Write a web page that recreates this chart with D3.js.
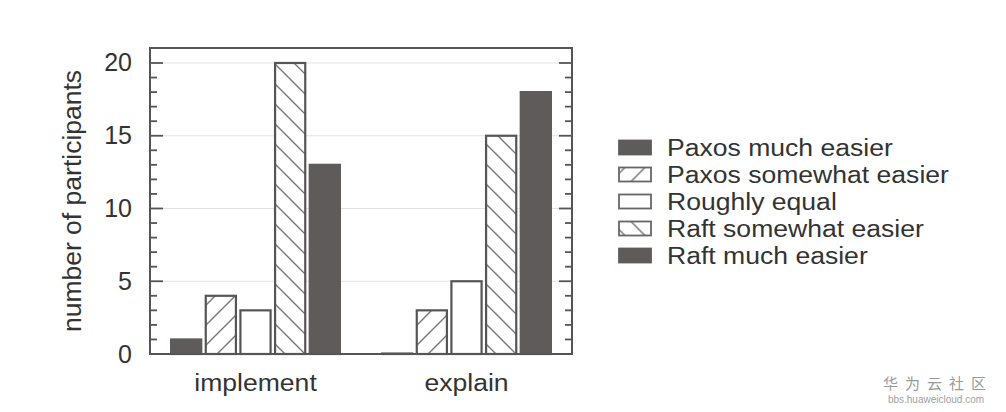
<!DOCTYPE html>
<html><head><meta charset="utf-8">
<script src="https://cdn.jsdelivr.net/npm/d3@7"></script>
<style>
html,body{margin:0;padding:0;background:#fff;}
svg{display:block;font-family:"Liberation Sans",Arial,sans-serif;}
</style></head>
<body>
<svg id="chart" width="1006" height="412"></svg>
<script>
const categories = ["implement", "explain"];
const series = ["Paxos much easier", "Paxos somewhat easier", "Roughly equal", "Raft somewhat easier", "Raft much easier"];
const implementValues = [1, 4, 3, 20, 13];
const explainValues = [0, 3, 5, 15, 18];
const yTicks = [0, 5, 10, 15, 20];
const valuesByCategory = {implement: implementValues, explain: explainValues};
const styles = ["solid", "fwd", "empty", "back", "solid"];

const svg = d3.select("#chart");
const M = {left: 150, right: 572, top: 48, bottom: 354};
const dark = "#5f5b5b", line = "#555";
const STRETCH = 1.13;
function stretch(sel) {
  sel.each(function() {
    const w = this.getComputedTextLength();
    d3.select(this).attr("textLength", w * STRETCH).attr("lengthAdjust", "spacingAndGlyphs");
  });
}

const defs = svg.append("defs");
function hatch(id, dir) {
  const p = defs.append("pattern").attr("id", id).attr("patternUnits", "userSpaceOnUse")
    .attr("width", 20).attr("height", 20);
  p.append("rect").attr("width", 20).attr("height", 20).attr("fill", "#fff");
  const segs = dir === "fwd" ? [[-5,5,5,-5],[0,20,20,0],[15,25,25,15]] : [[-5,15,5,25],[0,0,20,20],[15,-5,25,5]];
  segs.forEach(s => p.append("line").attr("x1", s[0]).attr("y1", s[1]).attr("x2", s[2]).attr("y2", s[3])
    .attr("stroke", "#707070").attr("stroke-width", 1.3));
}
hatch("hf", "fwd");
hatch("hb", "back");
function fillFor(s) { return s === "solid" ? dark : s === "fwd" ? "url(#hf)" : s === "back" ? "url(#hb)" : "#fff"; }

const y = d3.scaleLinear().domain([0, 21.03]).range([M.bottom, M.top]);
const x0 = d3.scaleBand().domain(categories).range([M.left, M.right]).paddingInner(0.2).paddingOuter(0.1);
const x1 = d3.scaleBand().domain(series).range([0, x0.bandwidth()]).paddingInner(0.13);

// grid
svg.append("g").selectAll("line").data(yTicks.filter(d => d > 0)).join("line")
  .attr("x1", M.left).attr("x2", M.right).attr("y1", d => y(d)).attr("y2", d => y(d))
  .attr("stroke", "#e2e2e2").attr("stroke-width", 1);

// minor/major ticks (inward, both sides)
const tickVals = d3.range(0, 21);
const tg = svg.append("g");
tickVals.forEach(v => {
  const len = v % 5 === 0 ? 13 : 7;
  tg.append("line").attr("x1", M.left).attr("x2", M.left + len).attr("y1", y(v)).attr("y2", y(v))
    .attr("stroke", line).attr("stroke-width", 1.8);
  tg.append("line").attr("x1", M.right).attr("x2", M.right - len).attr("y1", y(v)).attr("y2", y(v))
    .attr("stroke", line).attr("stroke-width", 1.8);
});

// bars (zero-height bars still show their outline, as gnuplot does)
categories.forEach(c => {
  const g = svg.append("g").attr("transform", `translate(${x0(c)},0)`);
  g.selectAll("rect").data(series.map((s, i) => ({s, i, v: valuesByCategory[c][i]}))).join("rect")
    .attr("x", d => x1(d.s)).attr("width", x1.bandwidth())
    .attr("y", d => Math.min(y(d.v), y(0) - 0.5)).attr("height", d => Math.max(y(0) - y(d.v), 0.5))
    .attr("fill", d => fillFor(styles[d.i]))
    .attr("stroke", d => styles[d.i] === "solid" ? dark : line)
    .attr("stroke-width", 2.2);
});

// frame
svg.append("rect").attr("x", M.left).attr("y", M.top).attr("width", M.right - M.left).attr("height", M.bottom - M.top)
  .attr("fill", "none").attr("stroke", line).attr("stroke-width", 2);

// y tick labels
const yAxis = d3.axisLeft(y).tickValues(yTicks).tickSize(0).tickPadding(18);
const ya = svg.append("g").attr("transform", `translate(${M.left},0)`).call(yAxis);
ya.select(".domain").remove();
ya.selectAll("text").attr("font-size", 25).attr("fill", "#333").attr("font-family", "Liberation Sans, Arial, sans-serif");

// x labels
const xAxis = d3.axisBottom(x0).tickSize(0).tickPadding(20);
const xa = svg.append("g").attr("transform", `translate(0,${M.bottom})`).call(xAxis);
xa.select(".domain").remove();
xa.selectAll("text").attr("font-size", 23.5).attr("fill", "#333").attr("font-family", "Liberation Sans, Arial, sans-serif")
  .call(stretch);

// y title
svg.append("text").attr("transform", `translate(81,${(M.top + M.bottom) / 2}) rotate(-90)`)
  .attr("text-anchor", "middle").attr("font-size", 26.5).attr("fill", "#333").text("number of participants");

// legend
const lg = svg.append("g").attr("transform", "translate(618,147.5)");
series.forEach((s, i) => {
  const row = lg.append("g").attr("transform", `translate(0,${i * 27})`);
  row.append("rect").attr("x", 1).attr("y", -7).attr("width", 32).attr("height", 14)
    .attr("fill", fillFor(styles[i])).attr("stroke", styles[i] === "solid" ? dark : "#666").attr("stroke-width", 1.8);
  row.append("text").attr("x", 49).attr("y", 8).attr("font-size", 23.5)
    .attr("fill", "#333").text(s).call(stretch);
});

// watermark
svg.append("text").attr("x", 938).attr("y", 389).attr("text-anchor", "middle").attr("font-size", 15)
  .attr("letter-spacing", 7).attr("fill", "#9a9a9a").attr("font-family", "Noto Sans CJK SC").text("华为云社区");
svg.append("text").attr("x", 936).attr("y", 403).attr("text-anchor", "middle").attr("font-size", 10)
  .attr("fill", "#a0a0a0").text("bbs.huaweicloud.com");
</script>
</body></html>
